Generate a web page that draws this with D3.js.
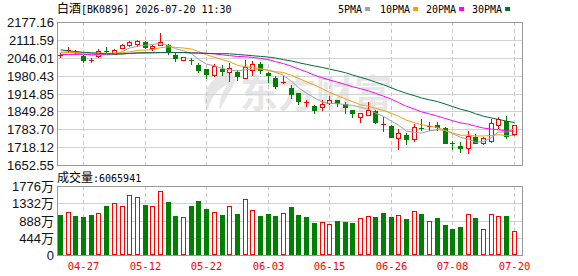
<!DOCTYPE html>
<html><head><meta charset="utf-8">
<script src="https://cdn.jsdelivr.net/npm/d3@7"></script>
<style>body{margin:0;background:#fff}svg{display:block}</style>
</head><body><svg id="c" width="578" height="276"></svg>
<script>
const dates = ["04-22","04-23","04-24","04-27","04-28","04-29","04-30","05-06","05-07","05-08","05-11","05-12","05-13","05-14","05-15","05-18","05-19","05-20","05-21","05-22","05-25","05-26","05-27","05-28","05-29","06-01","06-02","06-03","06-04","06-05","06-08","06-09","06-10","06-11","06-12","06-15","06-16","06-17","06-18","06-22","06-23","06-24","06-25","06-26","06-29","06-30","07-01","07-02","07-03","07-06","07-07","07-08","07-09","07-10","07-13","07-14","07-15","07-16","07-17","07-20"];
const opens  = [2055.5,2071,2064.5,2052,2038,2051,2071,2061,2083,2092.5,2097,2104.7,2083,2094.5,2094,2056.6,2039,2036,2020.7,2003,1981.6,2006,1993.6,1993.6,1973.2,2000,2024.3,1991.4,1973,1955,1936.6,1917,1881,1868,1863.5,1880.3,1890,1878,1853.6,1829,1837.8,1851,1801,1795,1752.5,1762,1746.4,1788.5,1794.5,1798.8,1788.9,1735,1723.5,1716.5,1756.5,1731.8,1740,1797.6,1813.4,1764.8];
const highs  = [2062,2084,2073,2054.7,2045,2079,2086,2076.6,2095,2107,2112,2105.8,2091,2136,2095,2061.8,2049,2043.7,2026.5,2004,2021.8,2018,2026.5,2002.4,2036,2033.8,2030,1992,1977.9,1978,1945,1918,1890,1872,1890,1904.8,1891,1884,1855,1843.7,1884,1856,1827,1798.8,1783,1768.4,1802,1820.7,1809.7,1810.8,1792.5,1741,1735.5,1777,1764.8,1756,1819.6,1829,1832.8,1801];
const lows   = [2048,2066,2058,2030,2030,2050,2068,2058,2080,2087.6,2090,2080.3,2073,2092,2061,2034,2037,2024,1993,1973,1977.9,1984,1960.7,1965.8,1970,1981.6,1991,1957,1935,1954,1898.5,1878,1869,1843.7,1853.6,1875.6,1868,1843.7,1829,1808.6,1837,1805,1777,1754,1711,1729,1741,1780,1780,1780,1731.8,1711,1701,1697.5,1733,1728,1737.7,1787.8,1751,1762];
const closes = [2056.5,2073,2065.5,2039,2038.5,2070,2069.5,2073,2092,2102,2106.8,2085,2090,2103,2071,2046.7,2048,2034,2000,1986,2014.5,1997.3,2009.7,1977.9,2011.9,2024.3,2000,1984,1942.4,1957,1912,1886.5,1882,1856,1875.6,1892.7,1881.7,1863.5,1841.5,1843,1856,1810.8,1802,1756,1768.4,1746.4,1790.3,1786.7,1795.8,1790.3,1734,1733.5,1716.5,1760,1734,1750,1805,1819.6,1758.5,1797.6];
const volumes = [1030,1099,1004,978,1030,1081,1261,1330,1261,1536,1485,1287,1261,1639,1364,1004,970,1261,1390,1184,1099,1030,1253,1055,1433,1150,1004,1055,1004,1073,1236,1030,978,824,841,790,875,849,824,944,996,978,1081,978,1021,927,1124,1055,867,952,772,669,721,1047,952,661,1047,996,1004,607];
const prevClose = 2060;
const ma5Head  = [2066,2066,2063,2060];
const ma10Head = [2066,2066,2065,2064,2063,2063,2062,2063,2065];
const ma20Head = [2058,2058,2058.5,2058.5,2058.5,2059,2059.5,2060,2061,2062,2063,2063.5,2064,2065,2065,2065.5,2065,2064,2063.5];
const ma30Head = [2075,2071,2069,2066,2064,2063,2060,2059.5,2059.5,2062,2064,2064.5,2064.5,2065,2065,2065,2065,2064,2063,2062,2061,2061,2060.5,2058,2055.8,2053.5,2051,2048.5,2045];
const priceTicks = [2177.16,2111.59,2046.01,1980.43,1914.85,1849.28,1783.70,1718.12,1652.55];
const volTicks = [0,444,888,1332,1776];
const volTickLabels = ["0","444万","888万","1332万","1776万"];
const dateTicks = ["04-27","05-12","05-22","06-03","06-15","06-26","07-08","07-20"];
const titleName = "白酒";
const titleRest = "[BK0896] 2026-07-20 11:30";
const volName = "成交量";
const volLatest = "6065941";
const maNames = ["5PMA","10PMA","20PMA","30PMA"];
const maColors = ["#a0a0a0","#f2a100","#ff00ff","#006b35"];

const RED = "#ff0000", GREEN = "#008000";
const svg = d3.select("#c");
const L = 57, R = 522, T = 22, B = 165, VT = 186, VB = 255;

const x = d3.scaleBand().domain(d3.range(dates.length)).range([56.2, 517.6]).padding(0);
const cx = i => Math.round(x(i) + x.bandwidth() / 2);
const y = d3.scaleLinear().domain([1652.55, 2177.16]).range([B, T]);
const vy = d3.scaleLinear().domain([0, 1776]).range([VB, VT]);
const snap = v => Math.round(v) + 0.5;

function ma(n, head) {
  return closes.map((c, i) => i < n - 1 ? head[i] : d3.mean(closes.slice(i - n + 1, i + 1)));
}
const mas = [ma(5, ma5Head), ma(10, ma10Head), ma(20, ma20Head), ma(30, ma30Head)];

// watermark
svg.append("path")
  .attr("d", "M226,72 C206,80 200,98 208,110 C210,100 216,90 228,84 C222,92 218,102 220,110 C226,98 232,88 236,80 C234,76 230,73 226,72 Z")
  .attr("fill", "#e6e6e6");
svg.append("text").attr("x", 240).attr("y", 107).attr("font-family", "Noto Sans CJK SC")
  .attr("font-weight", "bold").attr("font-size", 38).attr("fill", "#e6e6e6").text("东方财富");

// grid main
const g = svg.append("g");
priceTicks.forEach(v => {
  g.append("line").attr("x1", L).attr("x2", R).attr("y1", snap(y(v))).attr("y2", snap(y(v)))
    .attr("stroke", "#d2d2d2");
});
volTicks.forEach(v => {
  g.append("line").attr("x1", L).attr("x2", R).attr("y1", snap(vy(v))).attr("y2", snap(vy(v)))
    .attr("stroke", "#d2d2d2");
});
dateTicks.forEach(d => {
  const i = dates.indexOf(d);
  const xx = cx(i) + 0.5;
  [[T, B], [VT, VB]].forEach(([a, b]) => {
    g.append("line").attr("x1", xx).attr("x2", xx).attr("y1", a).attr("y2", b)
      .attr("stroke", "#c8c8c8").attr("stroke-dasharray", "4,3");
  });
  svg.append("text").attr("x", xx).attr("y", 270).attr("text-anchor", "middle")
    .attr("font-family", "DejaVu Sans Mono").attr("font-size", 10.5).attr("fill", RED).text(d);
});

// candles
const cg = svg.append("g").attr("shape-rendering", "crispEdges");
dates.forEach((d, i) => {
  const o = opens[i], c = closes[i], h = highs[i], l = lows[i];
  const up = c >= o;
  const col = up ? RED : GREEN;
  const c0 = cx(i);
  const top = Math.round(y(Math.max(o, c))), bot = Math.round(y(Math.min(o, c)));
  cg.append("line").attr("x1", c0 + 0.5).attr("x2", c0 + 0.5)
    .attr("y1", Math.round(y(h))).attr("y2", Math.round(y(l)) + 1).attr("stroke", col);
  if (bot - top < 2) {
    cg.append("rect").attr("x", c0 - 2).attr("y", top).attr("width", 5).attr("height", Math.max(1, bot - top))
      .attr("fill", col);
  } else if (up) {
    cg.append("rect").attr("x", c0 - 1.5).attr("y", top + 0.5).attr("width", 4).attr("height", bot - top)
      .attr("fill", "#fff").attr("stroke", col);
  } else {
    cg.append("rect").attr("x", c0 - 2).attr("y", top).attr("width", 5).attr("height", bot - top + 1)
      .attr("fill", col);
  }
  // volume
  const pc = i === 0 ? prevClose : closes[i - 1];
  const vup = c > pc;
  const vt = Math.round(vy(volumes[i]));
  if (vup) {
    cg.append("rect").attr("x", c0 - 1.5).attr("y", vt + 0.5).attr("width", 4).attr("height", VB - vt - 1)
      .attr("fill", "#fff").attr("stroke", RED);
  } else {
    cg.append("rect").attr("x", c0 - 2).attr("y", vt).attr("width", 5).attr("height", VB - vt)
      .attr("fill", GREEN);
  }
});

// MA lines
mas.forEach((arr, k) => {
  svg.append("path").datum(arr)
    .attr("d", d3.line().x((v, i) => cx(i) + 0.5).y(v => y(v)))
    .attr("fill", "none").attr("stroke", maColors[k]).attr("stroke-width", 1);
});

// frames
[[T, B], [VT, VB]].forEach(([a, b]) => {
  svg.append("rect").attr("x", L + 0.5).attr("y", a + 0.5).attr("width", R - L).attr("height", b - a)
    .attr("fill", "none").attr("stroke", "#999");
});

// axis labels
priceTicks.forEach(v => {
  svg.append("text").attr("x", 54).attr("y", snap(y(v)) + 4.5).attr("text-anchor", "end")
    .attr("font-family", "Liberation Sans, Arial").attr("font-size", 13).attr("fill", "#111").text(v.toFixed(2));
});
volTicks.forEach((v, k) => {
  svg.append("text").attr("x", 54).attr("y", snap(vy(v)) + 4.5).attr("text-anchor", "end")
    .attr("font-family", "Liberation Sans, Noto Sans CJK SC").attr("font-size", 13).attr("fill", "#111").text(volTickLabels[k]);
});

// title
const tt = svg.append("text").attr("x", 57).attr("y", 13).attr("fill", "#000");
tt.append("tspan").attr("font-family", "Noto Sans CJK SC").attr("font-size", 12).text(titleName);
tt.append("tspan").attr("font-family", "DejaVu Sans Mono").attr("font-size", 10).text(titleRest);

const vt2 = svg.append("text").attr("x", 57).attr("y", 182).attr("fill", "#000");
vt2.append("tspan").attr("font-family", "Noto Sans CJK SC").attr("font-size", 12).text(volName);
vt2.append("tspan").attr("font-family", "DejaVu Sans Mono").attr("font-size", 10).text(":" + volLatest);

// legend
const legX = [338, 380, 426, 472];
maNames.forEach((n, k) => {
  const t = svg.append("text").attr("x", legX[k]).attr("y", 12.5).attr("font-family", "DejaVu Sans Mono")
    .attr("font-size", 10).attr("fill", "#000").text(n);
  const w = t.node().getComputedTextLength();
  svg.append("rect").attr("x", legX[k] + w + 3).attr("y", 7).attr("width", 5).attr("height", 4).attr("fill", maColors[k]);
});
</script></body></html>
